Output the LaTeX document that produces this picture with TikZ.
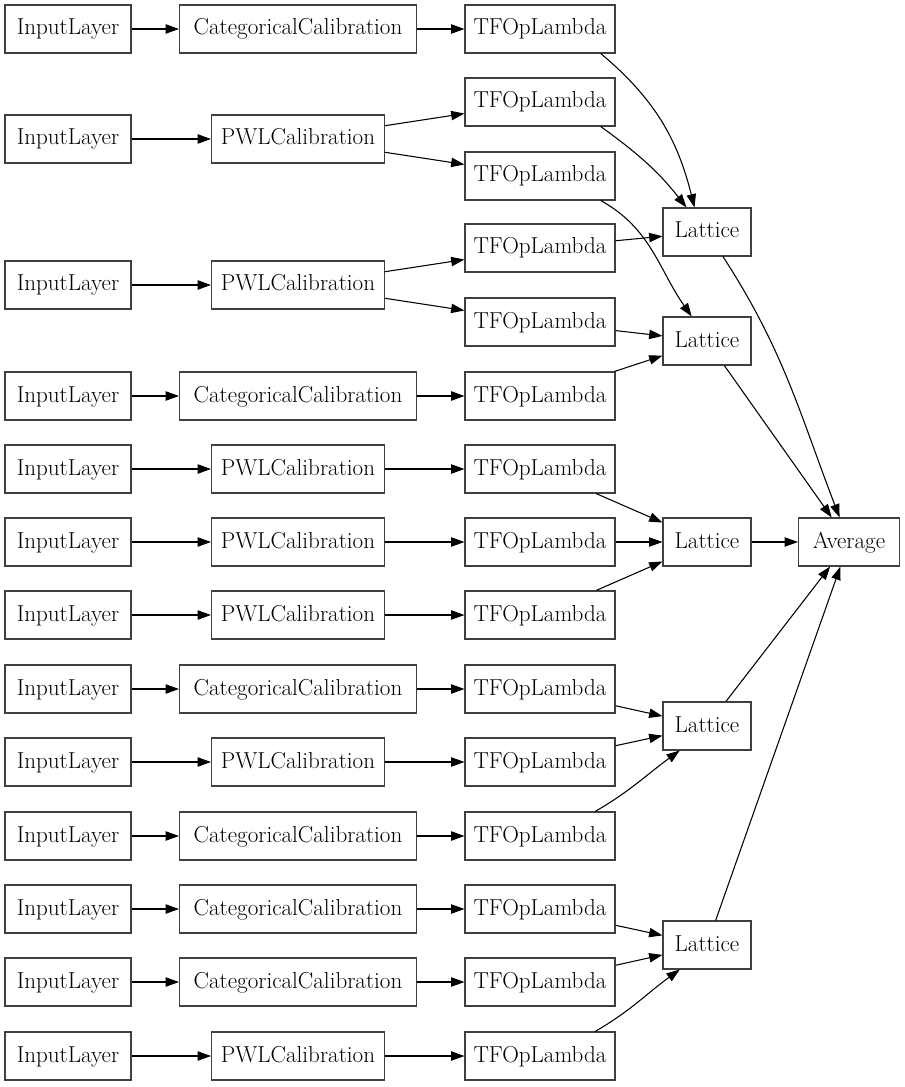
\documentclass[tikz,border=0pt]{standalone}
\usetikzlibrary{arrows.meta}
\tikzset{
  layer/.style={draw=black!75, line width=0.8pt, minimum height=36pt, inner sep=0pt,
    text height=12pt, text depth=3pt, font=\fontsize{17.3}{20}\selectfont},
  inp/.style={layer, minimum width=94.5pt},
  catcal/.style={layer, minimum width=177.75pt},
  pwlcal/.style={layer, minimum width=129.75pt},
  tfop/.style={layer, minimum width=112.5pt},
  latt/.style={layer, minimum width=66pt},
  avg/.style={layer, minimum width=75.75pt},
  edge/.style={-{Triangle[length=10pt,width=7pt]}, line width=0.8pt}
}
\begin{document}
\begin{tikzpicture}[x=0.75pt, y=-0.75pt]
    \useasboundingbox (0,0) rectangle (905,1087);
    % inputs and calibrations
    \foreach \r/\y/\kind/\txt in {1/29/catcal/CategoricalCalibration, 2/139/pwlcal/PWLCalibration,
        3/285/pwlcal/PWLCalibration, 4/396/catcal/CategoricalCalibration, 5/469/pwlcal/PWLCalibration,
        6/542/pwlcal/PWLCalibration, 7/615/pwlcal/PWLCalibration, 8/689/catcal/CategoricalCalibration,
        9/762/pwlcal/PWLCalibration, 10/836/catcal/CategoricalCalibration, 11/909/catcal/CategoricalCalibration,
        12/982/catcal/CategoricalCalibration, 13/1056/pwlcal/PWLCalibration} {
      \node[inp] (in\r) at (68,\y) {InputLayer};
      \node[\kind] (cal\r) at (298,\y) {\txt};
      \draw[edge] (in\r) -- (cal\r);
    }
    % lambdas
    \node[tfop] (t1) at (540,29) {TFOpLambda};
    \node[tfop] (t2a) at (540,102) {TFOpLambda};
    \node[tfop] (t2b) at (540,176) {TFOpLambda};
    \node[tfop] (t3a) at (540,248) {TFOpLambda};
    \node[tfop] (t3b) at (540,322) {TFOpLambda};
    \foreach \r/\y in {4/396, 5/469, 6/542, 7/615, 8/689, 9/762, 10/836, 11/909, 12/982, 13/1056} {
      \node[tfop] (t\r) at (540,\y) {TFOpLambda};
      \draw[edge] (cal\r) -- (t\r);
    }
    \draw[edge] (cal1) -- (t1);
    \draw[edge] (cal2) -- (t2a);
    \draw[edge] (cal2) -- (t2b);
    \draw[edge] (cal3) -- (t3a);
    \draw[edge] (cal3) -- (t3b);
    % lattices
    \node[latt] (l1) at (707,232) {Lattice};
    \node[latt] (l2) at (707,341) {Lattice};
    \node[latt] (l3) at (707,542) {Lattice};
    \node[latt] (l4) at (707,726) {Lattice};
    \node[latt] (l5) at (707,945) {Lattice};
    \node[avg] (avg) at (849,542) {Average};
    \draw[edge] (t1.-22) to[out=-40,in=104] (l1.117);
    \draw[edge] (t2a.-22) to[out=-36,in=128] (l1.130);
    \draw[edge] (t3a) -- (l1);
    \draw[edge] (t2b.-22) to[out=-29,in=125] (l2.122);
    \draw[edge] (t3b) -- (l2);
    \draw[edge] (t4) -- (l2);
    \draw[edge] (t5) -- (l3);
    \draw[edge] (t6) -- (l3);
    \draw[edge] (t7) -- (l3);
    \draw[edge] (t8) -- (l4);
    \draw[edge] (t9) -- (l4);
    \draw[edge] (t10.24) to[out=30,in=-144] (l4.-138);
    \draw[edge] (t11) -- (l5);
    \draw[edge] (t12) -- (l5);
    \draw[edge] (t13.24) to[out=30,in=-144] (l5.-138);
    % average
    \draw[edge] (l1.-57) to[out=-57,in=111] (avg.111);
    \draw[edge] (l2) -- (avg);
    \draw[edge] (l3) -- (avg);
    \draw[edge] (l4) -- (avg);
    \draw[edge] (l5) -- (avg);
\end{tikzpicture}
\end{document}
